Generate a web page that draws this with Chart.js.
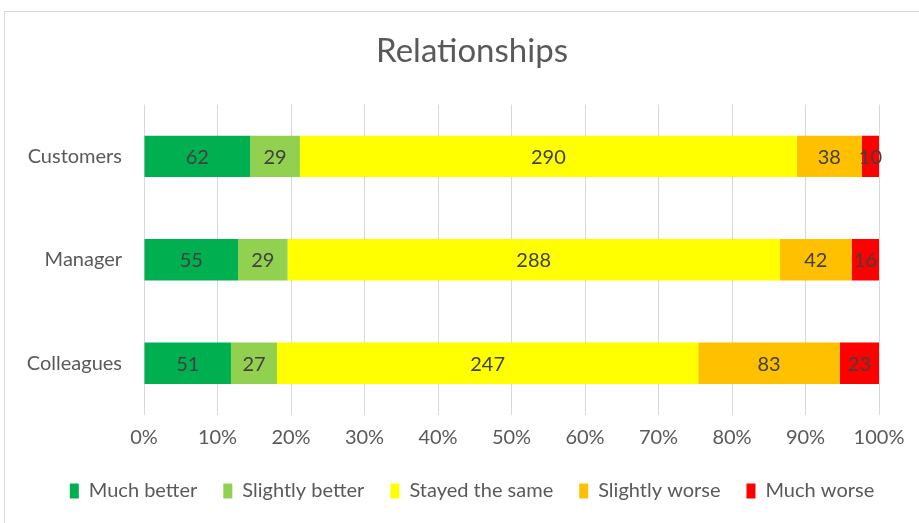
<!DOCTYPE html>
<html>
<head>
<meta charset="utf-8">
<script src="https://cdn.jsdelivr.net/npm/chart.js@4.4.0/dist/chart.umd.min.js"></script>
<style>
  html, body { margin: 0; padding: 0; background: #fff; overflow: hidden; width: 919px; height: 523px; }
  .frame { position: absolute; left: 4px; top: 11px; width: 1000px; height: 1000px;
           border-left: 1px solid #d9d9d9; border-top: 1px solid #d9d9d9; }
  .wrap { position: absolute; left: 0; top: 0; width: 940px; height: 523px; }
</style>
</head>
<body>
<div class="frame"></div>
<div class="wrap"><canvas id="chart" width="940" height="523"></canvas></div>
<script>
const categories = ['Customers', 'Manager', 'Colleagues'];
const seriesNames = ['Much better', 'Slightly better', 'Stayed the same', 'Slightly worse', 'Much worse'];
const muchBetter = [62, 55, 51];
const slightlyBetter = [29, 29, 27];
const stayedSame = [290, 288, 247];
const slightlyWorse = [38, 42, 83];
const muchWorse = [10, 16, 23];
const colors = ['#00B050', '#92D050', '#FFFF00', '#FFC000', '#FF0000'];

const raw = [muchBetter, slightlyBetter, stayedSame, slightlyWorse, muchWorse];
const totals = categories.map((c, i) => raw.reduce((s, arr) => s + arr[i], 0));

const FONT = 'Lato, "Noto Sans", sans-serif';

// draw the count in the middle of each segment
const barLabels = {
  id: 'barLabels',
  afterDatasetsDraw(chart) {
    const ctx = chart.ctx;
    ctx.save();
    ctx.font = '20px ' + FONT;
    ctx.fillStyle = '#404040';
    ctx.textAlign = 'center';
    ctx.textBaseline = 'middle';
    chart.data.datasets.forEach((ds, di) => {
      chart.getDatasetMeta(di).data.forEach((bar, i) => {
        const p = bar.getProps(['x', 'y', 'base'], true);
        ctx.fillText(String(ds.raw[i]), (p.x + p.base) / 2, p.y + 1);
      });
    });
    ctx.restore();
  }
};

new Chart(document.getElementById('chart'), {
  type: 'bar',
  data: {
    labels: categories,
    datasets: raw.map((arr, k) => ({
      label: seriesNames[k],
      raw: arr,
      data: arr.map((v, i) => v / totals[i] * 100),
      backgroundColor: colors[k],
      borderWidth: 0,
      barPercentage: 0.4,
      categoryPercentage: 1.0,
    })),
  },
  options: {
    indexAxis: 'y',
    responsive: false,
    animation: false,
    layout: { padding: { left: 10, right: 6, top: 0, bottom: 12 } },
    plugins: {
      title: {
        display: true,
        text: 'Relationships',
        color: '#595959',
        font: { family: FONT, size: 33, weight: 'normal' },
        padding: { top: 32, bottom: 33 },
      },
      legend: {
        position: 'bottom',
        labels: {
          color: '#595959',
          font: { family: FONT, size: 20 },
          boxWidth: 9,
          boxHeight: 15,
          padding: 26,
        },
      },
      tooltip: { enabled: false },
    },
    scales: {
      x: {
        stacked: true,
        min: 0,
        max: 100,
        ticks: {
          stepSize: 10,
          color: '#595959',
          font: { family: FONT, size: 20 },
          padding: 11,
          callback: v => v + '%',
        },
        grid: { color: '#d9d9d9', drawTicks: false },
        border: { display: false },
        afterFit: s => { s.height = 40; },
      },
      y: {
        stacked: true,
        ticks: {
          color: '#595959',
          font: { family: FONT, size: 20 },
          padding: 22,
        },
        grid: { display: false, drawTicks: false },
        border: { display: false },
        afterFit: s => { s.width = 134; },
      },
      // empty right-hand space: the source chart runs past the crop
      yRight: {
        type: 'category',
        axis: 'y',
        position: 'right',
        ticks: { display: false },
        grid: { display: false, drawTicks: false },
        border: { display: false },
        afterFit: s => { s.width = 55; },
      },
    },
  },
  plugins: [barLabels],
});
</script>
</body>
</html>
